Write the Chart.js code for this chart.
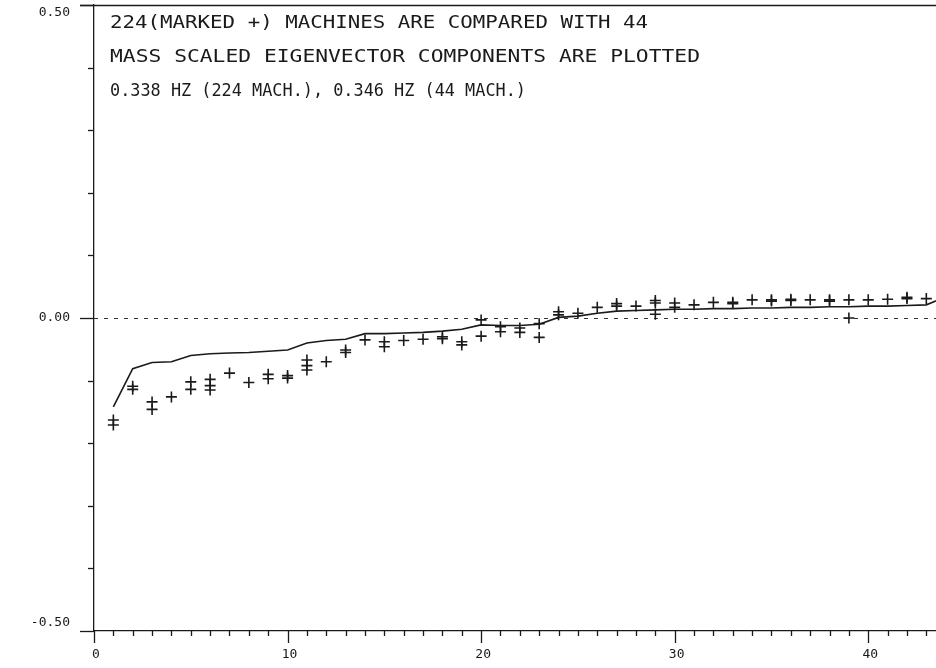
<!DOCTYPE html>
<html>
<head>
<meta charset="utf-8">
<script src="https://cdn.jsdelivr.net/npm/chart.js@4/dist/chart.umd.min.js"></script>
<style>
  html, body { margin: 0; padding: 0; background: #fff; overflow: hidden; }
  #wrap { width: 936px; height: 668px; }
</style>
</head>
<body>
<div id="wrap"><canvas id="chart" width="936" height="668"></canvas></div>
<script>
// 44-machine eigenvector components (solid line), machine index 1..44
const lineX = [1,2,3,4,5,6,7,8,9,10,11,12,13,14,15,16,17,18,19,20,21,22,23,24,25,26,27,28,29,30,31,32,33,34,35,36,37,38,39,40,41,42,43,44];
const lineY = [-0.142,-0.081,-0.071,-0.070,-0.060,-0.057,-0.056,-0.055,-0.053,-0.051,-0.040,-0.036,-0.034,-0.025,-0.025,-0.024,-0.023,-0.021,-0.018,-0.011,-0.012,-0.012,-0.010,0.001,0.003,0.0075,0.011,0.012,0.013,0.014,0.014,0.015,0.015,0.016,0.016,0.017,0.017,0.018,0.018,0.019,0.019,0.020,0.021,0.034];

// 224-machine components (marked +)
const markX = [1,1,2,2,3,3,4,5,5,6,6,6,7,8,9,9,10,10,11,11,11,12,13,13,14,15,15,16,17,18,18,19,19,20,20,21,21,22,22,23,23,24,24,25,26,27,27,28,29,29,29,30,30,31,32,33,33,34,35,35,36,36,37,38,38,39,39,40,41,42,42,43];
const markY = [-0.163,-0.171,-0.109,-0.114,-0.134,-0.146,-0.126,-0.102,-0.114,-0.098,-0.108,-0.115,-0.088,-0.103,-0.090,-0.097,-0.092,-0.096,-0.067,-0.076,-0.083,-0.070,-0.051,-0.055,-0.035,-0.038,-0.046,-0.036,-0.034,-0.030,-0.033,-0.038,-0.043,-0.003,-0.029,-0.014,-0.022,-0.016,-0.023,-0.009,-0.031,0.010,0.005,0.0075,0.017,0.023,0.019,0.019,0.028,0.024,0.006,0.024,0.017,0.021,0.025,0.025,0.023,0.029,0.029,0.027,0.030,0.028,0.029,0.029,0.027,0.029,0.000,0.029,0.030,0.033,0.031,0.031];

const xTickLabels = [0, 10, 20, 30, 40];
const yTickLabels = [-0.5, 0, 0.5];

const titleLines = [
  '224(MARKED +) MACHINES ARE COMPARED WITH 44',
  'MASS SCALED EIGENVECTOR COMPONENTS ARE PLOTTED',
  '0.338 HZ (224 MACH.), 0.346 HZ (44 MACH.)'
];
const titleWidths = [538, 590, 416];

const ink = '#1a1a1a';
const mono = '"DejaVu Sans Mono", monospace';

const plotterAxes = {
  id: 'plotterAxes',
  beforeDatasetsDraw(chart) {
    const { ctx, chartArea: a, scales: { y } } = chart;
    ctx.save();
    // dashed zero line
    ctx.strokeStyle = '#333';
    ctx.lineWidth = 1.2;
    ctx.setLineDash([4, 6]);
    ctx.beginPath();
    ctx.moveTo(a.left, y.getPixelForValue(0) + 0.5);
    ctx.lineTo(chart.width, y.getPixelForValue(0) + 0.5);
    ctx.stroke();
    ctx.restore();
  },
  afterDraw(chart) {
    const { ctx, chartArea: a, scales: { x, y } } = chart;
    ctx.save();
    ctx.strokeStyle = ink;
    ctx.lineWidth = 1.3;
    // top frame line
    ctx.beginPath();
    ctx.moveTo(a.left - 14, a.top + 0.5);
    ctx.lineTo(chart.width, a.top + 0.5);
    ctx.stroke();

    // y ticks every 0.1
    for (let i = -5; i <= 5; i++) {
      const py = Math.round(y.getPixelForValue(i / 10)) + 0.5;
      const len = (i % 5 === 0) ? 14 : 6;
      ctx.beginPath();
      ctx.moveTo(a.left - len, py);
      ctx.lineTo(a.left, py);
      ctx.stroke();
    }
    // x ticks every 1
    for (let v = 0; v <= Math.floor(x.max); v++) {
      const px = Math.round(x.getPixelForValue(v)) + 0.5;
      const len = (v % 10 === 0) ? 12 : 5;
      ctx.beginPath();
      ctx.moveTo(px, a.bottom);
      ctx.lineTo(px, a.bottom + len);
      ctx.stroke();
    }

    // tick labels
    ctx.fillStyle = ink;
    ctx.font = '13px ' + mono;
    ctx.textAlign = 'center';
    ctx.textBaseline = 'middle';
    xTickLabels.forEach(v => {
      ctx.fillText(String(v), x.getPixelForValue(v) + 2, a.bottom + 24);
    });
    ctx.textAlign = 'right';
    yTickLabels.forEach(v => {
      let py = y.getPixelForValue(v);
      py = Math.min(Math.max(py, a.top + 8), a.bottom - 8);
      ctx.fillText(v.toFixed(2), a.left - 24, py);
    });

    // header text inside the plot, stretched like the plotter lettering
    ctx.font = '17px ' + mono;
    ctx.textAlign = 'left';
    ctx.textBaseline = 'alphabetic';
    titleLines.forEach((t, i) => {
      const w = ctx.measureText(t).width;
      const sx = titleWidths[i] / w;
      ctx.save();
      ctx.translate(a.left + 16, a.top + 23 + i * 34);
      ctx.scale(sx, 1);
      ctx.fillText(t, 0, 0);
      ctx.restore();
    });
    ctx.restore();
  }
};

new Chart(document.getElementById('chart'), {
  type: 'scatter',
  data: {
    datasets: [
      {
        label: '44 machines',
        type: 'line',
        data: lineX.map((v, i) => ({ x: v, y: lineY[i] })),
        borderColor: ink,
        borderWidth: 1.6,
        pointRadius: 0,
        tension: 0,
        fill: false
      },
      {
        label: '224 machines',
        data: markX.map((v, i) => ({ x: v, y: markY[i] })),
        pointStyle: 'cross',
        pointRadius: 5.5,
        borderColor: ink,
        borderWidth: 1.6,
        backgroundColor: ink
      }
    ]
  },
  plugins: [plotterAxes],
  options: {
    responsive: false,
    animation: false,
    layout: { autoPadding: false, padding: { top: 5, right: 0, left: 0, bottom: 0 } },
    plugins: {
      legend: { display: false },
      tooltip: { enabled: false }
    },
    scales: {
      x: {
        type: 'linear',
        min: 0,
        max: 43.5,
        grid: { display: false, drawTicks: false },
        border: { display: true, color: ink, width: 1.3 },
        ticks: { display: false },
        afterFit(s) { s.height = 37; s.paddingLeft = 0; s.paddingRight = 0; }
      },
      y: {
        type: 'linear',
        min: -0.5,
        max: 0.5,
        grid: { display: false, drawTicks: false },
        border: { display: true, color: ink, width: 1.3 },
        ticks: { display: false },
        afterFit(s) { s.width = 94; s.paddingTop = 0; s.paddingBottom = 0; }
      }
    }
  }
});
</script>
</body>
</html>
